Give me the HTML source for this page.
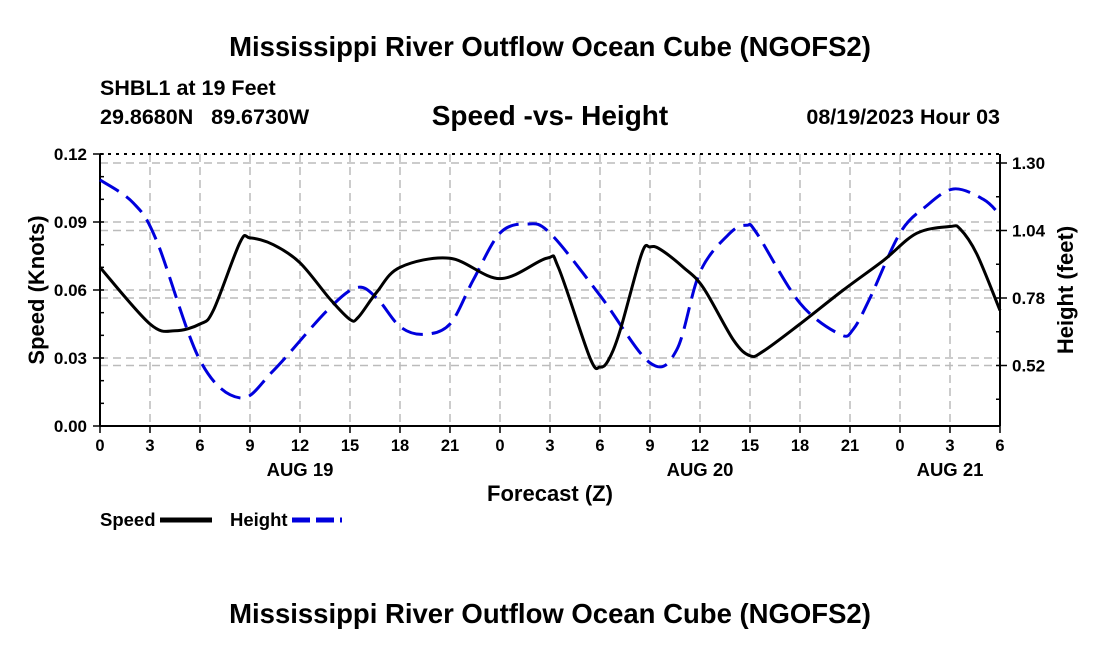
<!DOCTYPE html>
<html><head><meta charset="utf-8"><style>
body{margin:0;background:#fff;}
svg{display:block;font-family:"Liberation Sans",sans-serif;font-weight:bold;}
</style></head><body>
<svg id="chart" width="1100" height="650" viewBox="0 0 1100 650">
<text x="550" y="56" font-size="27.5" text-anchor="middle">Mississippi River Outflow Ocean Cube (NGOFS2)</text>
<text x="100" y="95" font-size="21.5">SHBL1 at 19 Feet</text>
<text x="100" y="124" font-size="21.5" xml:space="preserve">29.8680N   89.6730W</text>
<text x="550" y="125" font-size="28" text-anchor="middle">Speed -vs- Height</text>
<text x="1000" y="124" font-size="21.5" text-anchor="end">08/19/2023 Hour 03</text>
<g id="grid"></g>
<g id="axes"></g>
<g id="series"></g>
<text transform="translate(44,290) rotate(-90)" font-size="22" text-anchor="middle">Speed (Knots)</text>
<text transform="translate(1073,290) rotate(-90)" font-size="22" text-anchor="middle">Height (feet)</text>
<text x="550" y="501" font-size="22" text-anchor="middle">Forecast (Z)</text>
<g>
<text x="100" y="526" font-size="18.5">Speed</text>
<line x1="160" y1="520" x2="212" y2="520" stroke="#000" stroke-width="5"/>
</g>
<g>
<text x="230" y="526" font-size="18.5">Height</text>
<line x1="292" y1="520" x2="342" y2="520" stroke="#0000dd" stroke-width="5" stroke-dasharray="18,6"/>
</g>
<text x="550" y="623" font-size="27.5" text-anchor="middle">Mississippi River Outflow Ocean Cube (NGOFS2)</text>
</svg>
<script>
const speedHours=[0,3,4.5,6,6.8,8.4,9,10.4,12,13.8,15,15.5,16.6,18,21,24,26.8,27.5,29.4,30,30.5,31.2,32.5,33,33.6,35,36.2,38,39,39.8,42,44.6,47,49,51,51.6,52.6,54];
const speedValues=[0.070,0.045,0.042,0.045,0.051,0.081,0.083,0.080,0.072,0.056,0.047,0.048,0.059,0.070,0.074,0.065,0.074,0.070,0.030,0.026,0.029,0.042,0.076,0.079,0.078,0.070,0.061,0.038,0.031,0.033,0.045,0.060,0.073,0.085,0.088,0.087,0.076,0.051];
const heightHours=[0,2,3.4,6,8.4,10.4,13.6,15.4,16.6,18,19.4,21,22.4,24,25.6,27,30,33,34.6,36,37.8,38.8,39.4,42,44.4,45.2,46.2,48,49.5,51.2,53,54];
const heightValues=[1.235,1.146,1.00,0.54,0.395,0.50,0.73,0.82,0.78,0.67,0.64,0.68,0.85,1.03,1.065,1.03,0.79,0.53,0.58,0.88,1.03,1.06,1.03,0.76,0.64,0.66,0.78,1.03,1.13,1.20,1.16,1.10];
const xTickHours=[0,3,6,9,12,15,18,21,24,27,30,33,36,39,42,45,48,51,54];
const xTickLabels=["0","3","6","9","12","15","18","21","0","3","6","9","12","15","18","21","0","3","6"];
const dayLabels=["AUG 19","AUG 20","AUG 21"];
const dayHours=[12,36,51];
const yTicks=[0,0.03,0.06,0.09,0.12];
const y2Ticks=[0.52,0.78,1.04,1.30];

const L=100,R=1000,T=154,B=426;
const x=h=>L+(h/54)*(R-L);
const y=v=>B-(v/0.12)*(B-T);
const y2=v=>163+(1.30-v)/0.26*67.5;
const NS="http://www.w3.org/2000/svg";
function mk(tag,attrs,parent){const e=document.createElementNS(NS,tag);for(const k in attrs)e.setAttribute(k,attrs[k]);parent.appendChild(e);return e;}
const grid=document.getElementById('grid'),axes=document.getElementById('axes'),series=document.getElementById('series');
const gs={stroke:"#bbb","stroke-width":1.5,"stroke-dasharray":"8,5",fill:"none"};
xTickHours.forEach((h,i)=>{
 if(i>0&&i<xTickHours.length-1){const g=mk('line',Object.assign({x1:x(h),x2:x(h),y1:T,y2:B},gs),grid);}
 mk('line',{x1:x(h),x2:x(h),y1:B,y2:B+7,stroke:"#000","stroke-width":1.5},axes);
 const lb=mk('text',{x:x(h),y:B+25,"font-size":16.5,"text-anchor":"middle"},axes);lb.textContent=xTickLabels[i];
 
});
dayLabels.forEach((d,i)=>{const t=mk('text',{x:x(dayHours[i]),y:476,"font-size":18.5,"text-anchor":"middle"},axes);t.textContent=d;
 });
yTicks.forEach(v=>{
 if(v>0&&v<0.12){const g=mk('line',Object.assign({x1:L,x2:R,y1:y(v),y2:y(v)},gs),grid);}
 mk('line',{x1:L-7,x2:L,y1:y(v),y2:y(v),stroke:"#000","stroke-width":1.5},axes);
 const lb=mk('text',{x:L-13,y:y(v)+6,"font-size":17,"text-anchor":"end"},axes);lb.textContent=v.toFixed(2);
 
});
for(let v=0.01;v<0.12;v+=0.01){mk('line',{x1:L,x2:L+4,y1:y(v),y2:y(v),stroke:"#000","stroke-width":1.5},axes);}
y2Ticks.forEach(v=>{
 const g=mk('line',Object.assign({x1:L,x2:R,y1:y2(v),y2:y2(v)},gs),grid);
 mk('line',{x1:R,x2:R+7,y1:y2(v),y2:y2(v),stroke:"#000","stroke-width":1.5},axes);
 const lb=mk('text',{x:R+12,y:y2(v)+6,"font-size":17},axes);lb.textContent=v.toFixed(2);
 
});
for(let v=0.39;v<1.33;v+=0.13){mk('line',{x1:R-4,x2:R,y1:y2(v),y2:y2(v),stroke:"#000","stroke-width":1.5},axes);}
mk('line',{x1:L,x2:R,y1:T,y2:T,stroke:"#000","stroke-width":2,"stroke-dasharray":"3,5"},axes);
mk('line',{x1:L,x2:L,y1:T,y2:B,stroke:"#000","stroke-width":2},axes);
mk('line',{x1:R,x2:R,y1:T,y2:B,stroke:"#000","stroke-width":2},axes);
mk('line',{x1:L,x2:R,y1:B,y2:B,stroke:"#000","stroke-width":2},axes);
function smooth(pts){let d=`M${pts[0][0]},${pts[0][1]}`;for(let i=0;i<pts.length-1;i++){const p0=pts[i-1]||pts[i],p1=pts[i],p2=pts[i+1],p3=pts[i+2]||p2;
 const c1=[p1[0]+(p2[0]-p0[0])/6,p1[1]+(p2[1]-p0[1])/6],c2=[p2[0]-(p3[0]-p1[0])/6,p2[1]-(p3[1]-p1[1])/6];
 d+=`C${c1[0]},${c1[1]} ${c2[0]},${c2[1]} ${p2[0]},${p2[1]}`;}return d;}
const hp=mk('path',{d:smooth(heightHours.map((h,i)=>[x(h),y2(heightValues[i])])),stroke:"#0000dd","stroke-width":3,fill:"none","stroke-dasharray":"22,9"},series);

const sp=mk('path',{d:smooth(speedHours.map((h,i)=>[x(h),y(speedValues[i])])),stroke:"#000","stroke-width":3,fill:"none"},series);

</script>
</body></html>
